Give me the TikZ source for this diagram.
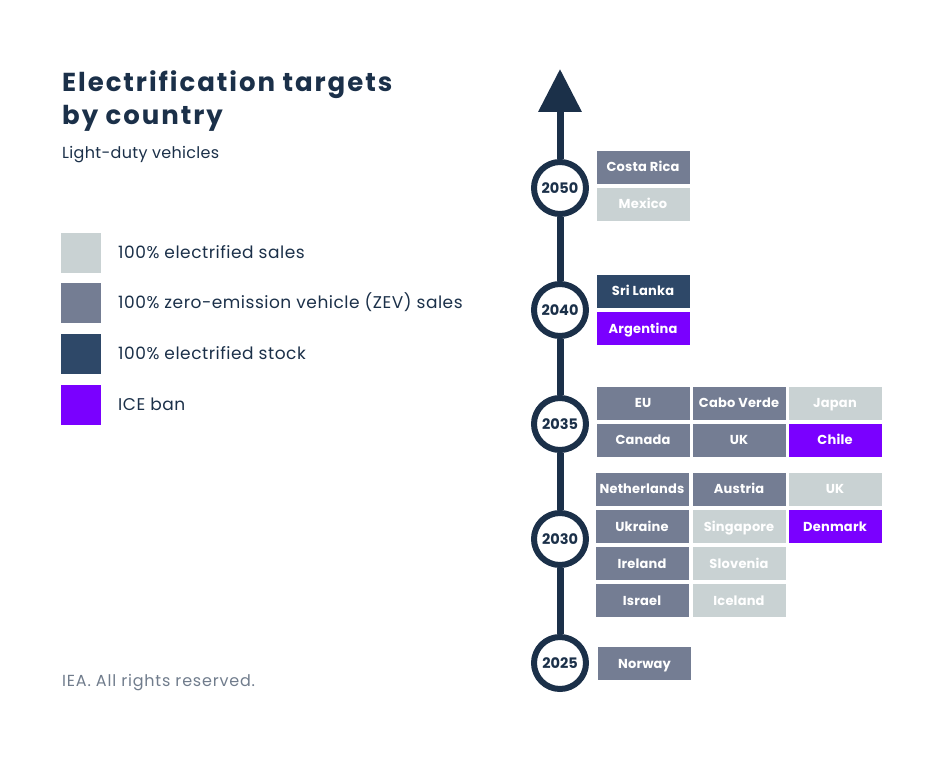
\documentclass[tikz,border=0pt]{standalone}
\usepackage{fontspec}
\setmainfont{Poppins}
\usetikzlibrary{arrows.meta}
\definecolor{navy}{HTML}{1B3049}
\definecolor{salesgray}{HTML}{C9D2D3}
\definecolor{zevgray}{HTML}{747D93}
\definecolor{stockblue}{HTML}{2E4868}
\definecolor{icepurple}{HTML}{7A00FF}
\definecolor{notegray}{HTML}{707C8C}
\begin{document}
\begin{tikzpicture}[x=1pt,y=-1pt,
    year/.style={circle,draw=navy,line width=6pt,fill=white,minimum size=52pt,
      inner sep=0pt,text=navy,text height=10pt,text depth=0pt,
      font=\fontsize{14.5}{15}\selectfont\bfseries},
    target/.style={minimum width=93pt,minimum height=33pt,inner sep=0pt,
      text=white,text height=9pt,text depth=0pt,
      font=\fontsize{13}{13}\selectfont\bfseries\addfontfeature{LetterSpace=1.5}},
    sales/.style={target,fill=salesgray},
    zev/.style={target,fill=zevgray},
    stock/.style={target,fill=stockblue},
    iceban/.style={target,fill=icepurple},
    key/.style={minimum size=40pt,inner sep=0pt},
    keytext/.style={anchor=base west,inner sep=0pt,text=navy,
      font=\fontsize{17}{17}\selectfont\addfontfeature{LetterSpace=3}}]
  \useasboundingbox (0,0) rectangle (938,768);

  % heading
  \node[anchor=base west,inner sep=0pt,text=navy,
    font=\fontsize{26}{26}\selectfont\bfseries\addfontfeature{LetterSpace=7.5}]
    (title1) at (62,92) {Electrification targets};
  \node[anchor=base west,inner sep=0pt,text=navy,
    font=\fontsize{26}{26}\selectfont\bfseries\addfontfeature{LetterSpace=7.5}]
    (title2) at (62,124.5) {by country};
  \node[anchor=base west,inner sep=0pt,text=navy,
    font=\fontsize{16}{16}\selectfont\addfontfeature{LetterSpace=2}]
    (subtitle) at (62,158) {Light-duty vehicles};

  % legend
  \node[key,fill=salesgray] (k1) at (81,252.5) {};
  \node[key,fill=zevgray] (k2) at (81,303) {};
  \node[key,fill=stockblue] (k3) at (81,354) {};
  \node[key,fill=icepurple] (k4) at (81,405) {};
  \node[keytext] (t1) at (118,258) {100\% electrified sales};
  \node[keytext] (t2) at (118,308.5) {100\% zero-emission vehicle (ZEV) sales};
  \node[keytext] (t3) at (118,359.5) {100\% electrified stock};
  \node[keytext] (t4) at (118,410.5) {ICE ban};

  \node[anchor=base west,inner sep=0pt,text=notegray,
    font=\fontsize{16}{16}\selectfont\addfontfeature{LetterSpace=5}]
    (note) at (62,686) {IEA. All rights reserved.};

  % timeline
  \node[year] (y2050) at (560,188) {2050};
  \node[year] (y2040) at (560,310) {2040};
  \node[year] (y2035) at (560,424) {2035};
  \node[year] (y2030) at (560,539) {2030};
  \node[year] (y2025) at (560,663) {2025};
  \coordinate (top) at (560,69);
  \begin{scope}[navy,line width=7pt]
    \draw (y2025) -- (y2030);
    \draw (y2030) -- (y2035);
    \draw (y2035) -- (y2040);
    \draw (y2040) -- (y2050);
    \draw[-{Triangle[width=42pt,length=43pt]}] (y2050) -- (top);
  \end{scope}

  % 2050
  \node[zev] (costarica) at (643,167) {Costa Rica};
  \node[sales] (mexico) at (643,204) {Mexico};
  % 2040
  \node[stock] (srilanka) at (643,291) {Sri Lanka};
  \node[iceban] (argentina) at (643,328.5) {Argentina};
  % 2035
  \node[zev] (eu) at (643,403) {EU};
  \node[zev] (caboverde) at (739,403) {Cabo Verde};
  \node[sales] (japan) at (835,403) {Japan};
  \node[zev] (canada) at (643,440) {Canada};
  \node[zev] (uk35) at (739,440) {UK};
  \node[iceban] (chile) at (835,440) {Chile};
  % 2030
  \node[zev] (netherlands) at (642,489) {Netherlands};
  \node[zev] (austria) at (739,489) {Austria};
  \node[sales] (uk30) at (835,489) {UK};
  \node[zev] (ukraine) at (642,526.5) {Ukraine};
  \node[sales] (singapore) at (739,526.5) {Singapore};
  \node[iceban] (denmark) at (835,526.5) {Denmark};
  \node[zev] (ireland) at (642,563.5) {Ireland};
  \node[sales] (slovenia) at (739,563.5) {Slovenia};
  \node[zev] (israel) at (642,600.5) {Israel};
  \node[sales] (iceland) at (739,600.5) {Iceland};
  % 2025
  \node[zev] (norway) at (644.5,663.5) {Norway};
\end{tikzpicture}
\end{document}
